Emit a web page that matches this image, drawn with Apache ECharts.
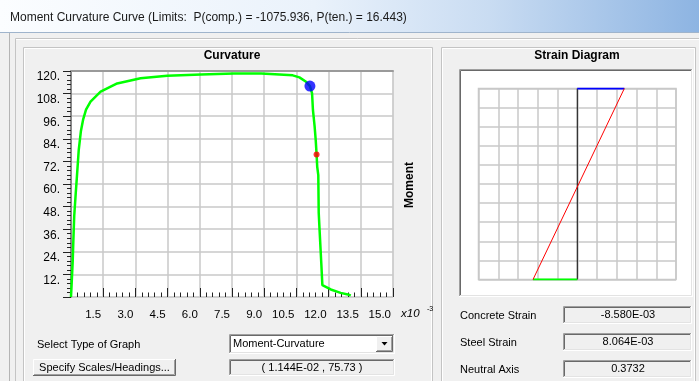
<!DOCTYPE html>
<html>
<head>
<meta charset="utf-8">
<script src="https://cdn.jsdelivr.net/npm/echarts@6/dist/echarts.min.js"></script>
<style>
  html, body { margin: 0; padding: 0; background: #f0f0f0; }
  #chart { width: 699px; height: 381px; }
</style>
</head>
<body>
<div id="chart"></div>
<script>
// Moment-curvature response (curvature in 1e-3 units, moment in force-length units)
const curvature = [0, 0.03, 0.08, 0.11, 0.15, 0.22, 0.27, 0.36, 0.46, 0.57, 0.70, 0.91, 1.38, 2.15, 3.24, 4.48, 6.06, 7.59, 8.86, 9.50, 10.33, 10.64, 10.95, 11.13, 11.23, 11.27, 11.35, 11.40, 11.44, 11.47, 11.52, 11.54, 11.58, 11.66, 11.71, 11.79, 12.10, 12.56, 12.95, 13.03];
const moment    = [0, 7.0, 19.0, 30.0, 43.0, 55.0, 63.0, 78.0, 88.0, 94.5, 99.5, 103.7, 109.0, 113.4, 116.1, 117.5, 118.2, 118.7, 118.7, 118.3, 117.7, 116.6, 114.3, 112.0, 108.1, 99.3, 90.4, 83.3, 75.73, 69.1, 64.7, 44.6, 35.5, 17.8, 6.3, 5.4, 4.0, 2.2, 1.2, 0.7];

// Marked points: yield and current cursor position
const yieldPoint  = [11.13, 112.0];
const cursorPoint = [11.44, 75.73];

// Axis ranges / tick steps
const curvatureTicks = { min: 0, max: 15, step: 1.5 };
const momentTicks    = { min: 0, max: 120, step: 12 };

// Strain profile at the cursor point (strain in 1e-3 units, depth 0 = top face, 1 = bottom face)
const sectionDepth   = [0, 1];
const concreteStrain = -8.580;
const steelStrain    = 8.064;
const neutralAxis    = 0.3732;

const dialogTitle = 'Moment Curvature Curve (Limits:  P(comp.) = -1075.936, P(ten.) = 16.443)';
const graphTypes  = ['Moment-Curvature'];

function sci(v) {
  // Fortran-like exponent format: 1.144E-02
  const s = v.toExponential(3).toUpperCase();
  const m = s.match(/^(-?[\d.]+)E([+-])(\d+)$/);
  const exp = m[3].length < 2 ? '0' + m[3] : m[3];
  return m[1] + 'E' + (m[2] === '-' ? '-' : '+') + exp;
}

const UI_FONT = '11px "Liberation Sans", Arial, sans-serif';

function sunken(x, y, w, h, fill) {
  return [
    { type: 'rect', z: -5, shape: { x: x, y: y, width: w, height: h }, style: { fill: fill } },
    { type: 'polyline', z: -4, shape: { points: [[x + 0.5, y + h], [x + 0.5, y + 0.5], [x + w, y + 0.5]] }, style: { stroke: '#a0a0a0', lineWidth: 1, fill: null } },
    { type: 'polyline', z: -4, shape: { points: [[x + 1.5, y + h - 1], [x + 1.5, y + 1.5], [x + w - 1, y + 1.5]] }, style: { stroke: '#696969', lineWidth: 1, fill: null } },
    { type: 'polyline', z: -4, shape: { points: [[x, y + h - 0.5], [x + w - 0.5, y + h - 0.5], [x + w - 0.5, y]] }, style: { stroke: '#ffffff', lineWidth: 1, fill: null } },
    { type: 'polyline', z: -4, shape: { points: [[x + 1, y + h - 1.5], [x + w - 1.5, y + h - 1.5], [x + w - 1.5, y + 1]] }, style: { stroke: '#e3e3e3', lineWidth: 1, fill: null } }
  ];
}

function raised(x, y, w, h, fill) {
  return [
    { type: 'rect', z: -5, shape: { x: x, y: y, width: w, height: h }, style: { fill: fill } },
    { type: 'polyline', z: -4, shape: { points: [[x + 0.5, y + h], [x + 0.5, y + 0.5], [x + w, y + 0.5]] }, style: { stroke: '#ffffff', lineWidth: 1, fill: null } },
    { type: 'polyline', z: -4, shape: { points: [[x, y + h - 0.5], [x + w - 0.5, y + h - 0.5], [x + w - 0.5, y]] }, style: { stroke: '#696969', lineWidth: 1, fill: null } },
    { type: 'polyline', z: -4, shape: { points: [[x + 1, y + h - 1.5], [x + w - 1.5, y + h - 1.5], [x + w - 1.5, y + 1]] }, style: { stroke: '#a0a0a0', lineWidth: 1, fill: null } }
  ];
}

function groupBox(x, y, w, h) {
  return [
    { type: 'rect', z: -6, shape: { x: x + 0.5, y: y + 0.5, width: w, height: h }, style: { fill: null, stroke: '#c4c4c4', lineWidth: 1 } },
    { type: 'rect', z: -6, shape: { x: x + 1.5, y: y + 1.5, width: w - 2, height: h - 2 }, style: { fill: null, stroke: '#ffffff', lineWidth: 1 } }
  ];
}

function label(text, x, y, opts) {
  return Object.assign({
    type: 'text', z: 10,
    style: Object.assign({ text: text, x: x, y: y, font: UI_FONT, fill: '#000', align: 'left', verticalAlign: 'middle' }, opts || {})
  });
}

const chrome = [].concat(
  // title bar
  [{
    type: 'rect', z: -8, shape: { x: 0, y: 0, width: 699, height: 32 },
    style: { fill: new echarts.graphic.LinearGradient(0, 0, 1, 0, [
      { offset: 0, color: '#fbfdff' }, { offset: 0.45, color: '#eaf2fb' },
      { offset: 0.7, color: '#c9dcf2' }, { offset: 1, color: '#8db4e2' }]) }
  },
  { type: 'line', z: -7, shape: { x1: 0, y1: 32.5, x2: 699, y2: 32.5 }, style: { stroke: '#9fb4cc', lineWidth: 1 } },
  label(dialogTitle, 10, 18, { font: '12px "Liberation Sans", Arial, sans-serif', fill: '#1a1a1a' }),
  // dialog frame
  { type: 'line', z: -7, shape: { x1: 9.5, y1: 33, x2: 9.5, y2: 381 }, style: { stroke: '#b4b4b4', lineWidth: 1 } },
  { type: 'polyline', z: -7, shape: { points: [[15.5, 381], [15.5, 38.5], [699, 38.5]] }, style: { stroke: '#c4c4c4', lineWidth: 1, fill: null } },
  { type: 'line', z: -7, shape: { x1: 16, y1: 39.5, x2: 699, y2: 39.5 }, style: { stroke: '#ffffff', lineWidth: 1 } }],
  groupBox(23, 47, 409, 360),
  groupBox(441, 47, 254, 360),
  // strain diagram canvas
  sunken(459, 69, 234, 228, '#ffffff'),
  [
    label('Curvature', 232, 56, { font: 'bold 12px "Liberation Sans", Arial, sans-serif', align: 'center' }),
    label('Strain Diagram', 577, 56, { font: 'bold 12px "Liberation Sans", Arial, sans-serif', align: 'center' }),
    {
      type: 'text', z: 10, x: 410, y: 185, rotation: Math.PI / 2,
      style: { text: 'Moment', x: 0, y: 0, font: 'bold 12px "Liberation Sans", Arial, sans-serif', fill: '#000', align: 'center', verticalAlign: 'middle' }
    },
    label('x10', 401, 314, { font: 'italic 11.5px "Liberation Sans", Arial, sans-serif' }),
    label('-3', 427, 309, { font: '7px "Liberation Sans", Arial, sans-serif' }),
    label('Select Type of Graph', 37, 345),
    label('Concrete Strain', 460, 316),
    label('Steel Strain', 460, 343),
    label('Neutral Axis', 460, 370)
  ],
  // graph type selector
  sunken(229, 334, 166, 20, '#ffffff'),
  raised(376, 336, 17, 16, '#f0f0f0'),
  [
    { type: 'polygon', z: 10, shape: { points: [[381.5, 342], [387.5, 342], [384.5, 345.5]] }, style: { fill: '#000' } },
    label(graphTypes[0], 233, 344)
  ],
  // scales button
  raised(33, 359, 143, 17, '#f0f0f0'),
  [label('Specify Scales/Headings...', 104.5, 367.5, { align: 'center' })],
  // cursor readout
  sunken(229, 359, 166, 17, '#f0f0f0'),
  [label('( ' + sci(cursorPoint[0] / 1000) + ' , ' + cursorPoint[1].toFixed(2) + ' )', 312, 367.5, { align: 'center' })],
  // strain result fields
  sunken(563, 306, 129, 18, '#f0f0f0'),
  [label(sci(concreteStrain / 1000), 628, 315, { align: 'center' })],
  sunken(563, 333, 129, 18, '#f0f0f0'),
  [label(sci(steelStrain / 1000), 628, 342, { align: 'center' })],
  sunken(563, 360, 129, 18, '#f0f0f0'),
  [label(neutralAxis.toFixed(4), 628, 369, { align: 'center' })]
);

const gridLine = { show: true, lineStyle: { color: '#c8c8c8', width: 1.5 } };
const AXIS_FONT = '"Liberation Sans", Arial, sans-serif';

const option = {
  animation: false,
  backgroundColor: '#f0f0f0',
  graphic: { elements: chrome },
  grid: [
    { left: 71, top: 71, width: 322, height: 226, show: true, backgroundColor: '#ffffff', borderColor: '#d4d4d4', borderWidth: 1 },
    { left: 478.5, top: 88.5, width: 197.5, height: 191, show: true, backgroundColor: '#ffffff', borderColor: '#c8c8c8', borderWidth: 1.5 }
  ],
  xAxis: [
    {
      gridIndex: 0, type: 'value', position: 'bottom', offset: 9,
      min: curvatureTicks.min, max: curvatureTicks.max, interval: curvatureTicks.step,
      axisLine: { show: false },
      axisTick: { show: true, inside: true, length: 9, lineStyle: { color: '#222', width: 1 } },
      minorTick: { show: true, splitNumber: 5, length: 4.5, lineStyle: { color: '#222', width: 1 } },
      axisLabel: {
        show: true, showMinLabel: false, align: 'right', margin: 3, padding: [0, 2, 0, 0],
        fontFamily: AXIS_FONT, fontSize: 11.5, color: '#000',
        formatter: v => v.toFixed(1)
      },
      splitLine: gridLine
    },
    {
      gridIndex: 0, type: 'value', position: 'top',
      min: curvatureTicks.min, max: curvatureTicks.max,
      axisLine: { show: true, lineStyle: { color: '#9a9a9a', width: 2 } },
      axisTick: { show: false }, axisLabel: { show: false }, splitLine: { show: false }
    },
    {
      gridIndex: 1, type: 'value', inverse: true,
      min: -18, max: 18, interval: 3.6,
      axisLine: { show: false }, axisTick: { show: false }, axisLabel: { show: false },
      splitLine: gridLine
    }
  ],
  yAxis: [
    {
      gridIndex: 0, type: 'value',
      min: momentTicks.min, max: momentTicks.max, interval: momentTicks.step,
      axisLine: { show: true, lineStyle: { color: '#707070', width: 1.5 } },
      axisTick: { show: true, length: 8, lineStyle: { color: '#222', width: 1 } },
      minorTick: { show: true, splitNumber: 5, length: 4, lineStyle: { color: '#222', width: 1 } },
      axisLabel: {
        show: true, showMinLabel: false, verticalAlign: 'top', margin: 11,
        fontFamily: AXIS_FONT, fontSize: 12, color: '#000',
        formatter: v => v + '.'
      },
      splitLine: gridLine
    },
    {
      gridIndex: 1, type: 'value', inverse: true,
      min: 0, max: 1, interval: 0.1,
      axisLine: { show: false }, axisTick: { show: false }, axisLabel: { show: false },
      splitLine: gridLine
    }
  ],
  series: [
    {
      name: 'Moment-Curvature', type: 'line', xAxisIndex: 0, yAxisIndex: 0,
      data: curvature.map((c, i) => [c, moment[i]]),
      showSymbol: false, lineStyle: { color: '#00ff00', width: 2.5 }, z: 3
    },
    {
      name: 'Yield', type: 'scatter', xAxisIndex: 0, yAxisIndex: 0,
      data: [yieldPoint], symbolSize: 11, itemStyle: { color: '#0000ff' }, z: 4
    },
    {
      name: 'Cursor', type: 'scatter', xAxisIndex: 0, yAxisIndex: 0,
      data: [cursorPoint], symbolSize: 6, itemStyle: { color: '#ff0000' }, z: 4
    },
    {
      name: 'Section', type: 'line', xAxisIndex: 2, yAxisIndex: 1,
      data: [[0, sectionDepth[0]], [0, sectionDepth[1]]],
      showSymbol: false, lineStyle: { color: '#000000', width: 1 }, z: 3
    },
    {
      name: 'Concrete strain', type: 'line', xAxisIndex: 2, yAxisIndex: 1,
      data: [[0, sectionDepth[0]], [concreteStrain, sectionDepth[0]]],
      showSymbol: false, lineStyle: { color: '#0000ff', width: 2 }, z: 3
    },
    {
      name: 'Steel strain', type: 'line', xAxisIndex: 2, yAxisIndex: 1,
      data: [[0, sectionDepth[1]], [steelStrain, sectionDepth[1]]],
      showSymbol: false, lineStyle: { color: '#00ff00', width: 2 }, z: 3
    },
    {
      name: 'Strain profile', type: 'line', xAxisIndex: 2, yAxisIndex: 1,
      data: [[concreteStrain, sectionDepth[0]], [steelStrain, sectionDepth[1]]],
      showSymbol: false, lineStyle: { color: '#ff0000', width: 1 }, z: 4
    }
  ]
};

const chart = echarts.init(document.getElementById('chart'), null, { renderer: 'canvas' });
chart.setOption(option);
</script>
</body>
</html>
